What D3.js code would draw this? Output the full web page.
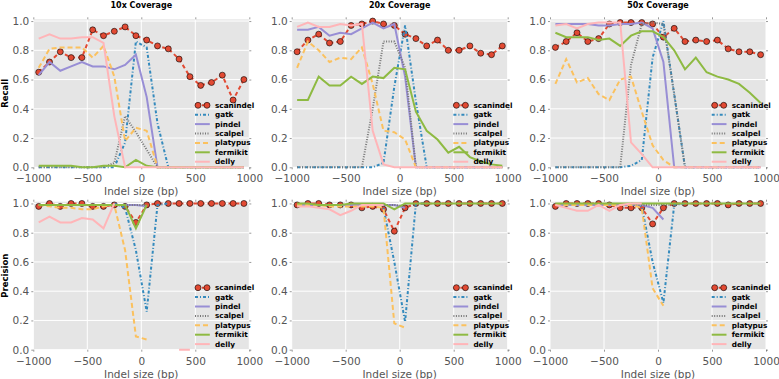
<!DOCTYPE html>
<html>
<head>
<meta charset="utf-8">
<script src="https://cdnjs.cloudflare.com/ajax/libs/d3/7.8.5/d3.min.js"></script>
<style>
  body { margin: 0; background: #fff; }
  svg { display: block; }
</style>
</head>
<body>
<div id="chart"></div>
<script>
// indel sizes (bin centres, bp)
var sizes = [-950, -850, -750, -650, -550, -450, -350, -250, -150, -50,
             50, 150, 250, 350, 450, 550, 650, 750, 850, 950];

var seriesNames = ["scanindel", "gatk", "pindel", "scalpel", "platypus", "fermikit", "delly"];
var xTicks = [-1000, -500, 0, 500, 1000];
var yTicks = [0.0, 0.2, 0.4, 0.6, 0.8, 1.0];
var titles = ["10x Coverage", "20x Coverage", "50x Coverage"];
var rowLabels = ["Recall", "Precision"];

var n = null;

// recall, one row per tool (same order as seriesNames)
var recall10 = [
  [0.65, 0.72, 0.79, 0.75, 0.75, 0.94, 0.90, 0.93, 0.96, 0.90, 0.87, 0.83, 0.81, 0.74, 0.62, 0.56, 0.58, 0.63, 0.46, 0.60],
  [0, 0, 0, 0, 0, 0, 0, 0, 0.17, 0.86, 0.82, 0.30, 0, 0, 0, 0, 0, 0, 0, 0],
  [0.63, 0.72, 0.66, 0.69, 0.72, 0.69, 0.69, 0.67, 0.70, 0.77, 0.48, 0, 0, 0, 0, 0, 0, 0, 0, 0],
  [0, 0, 0, 0, 0, 0, 0, 0.03, 0.35, 0.24, 0.12, 0, 0, 0, 0, 0, 0, 0, 0, 0],
  [0.68, 0.81, 0.82, 0.82, 0.82, 0.75, 0.83, 0.62, 0.18, 0.27, 0.25, 0, 0, 0, 0, 0, 0, 0, 0, 0],
  [0.01, 0.01, 0.01, 0.01, 0.0, 0.0, 0.01, 0.01, 0.0, 0.05, 0.01, 0, 0, 0, 0, 0, 0, 0, 0, 0],
  [0.88, 0.91, 0.88, 0.88, 0.89, 0.89, 0.85, 0.35, 0, 0, 0, 0, 0, 0, 0, 0, 0, 0, 0, 0]
];
var recall20 = [
  [0.79, 0.87, 0.91, 0.85, 0.86, 0.97, 0.98, 1.00, 0.98, 0.97, 0.91, 0.88, 0.83, 0.87, 0.80, 0.80, 0.83, 0.78, 0.77, 0.83],
  [0, 0, 0, 0, 0, 0, 0, 0, 0.03, 0.55, 0.97, 0.45, 0, 0, 0, 0, 0, 0, 0, 0],
  [0.94, 0.94, 0.96, 0.90, 0.92, 0.91, 0.95, 0.99, 0.95, 0.98, 0.62, 0, 0, 0, 0, 0, 0, 0, 0, 0],
  [0, 0, 0, 0, 0, 0, 0, 0.40, 0.86, 0.86, 0.68, 0, 0, 0, 0, 0, 0, 0, 0, 0],
  [0.68, 0.86, 0.80, 0.72, 0.75, 0.74, 0.82, 0.57, 0.25, 0.24, 0.19, 0, 0, 0, 0, 0, 0, 0, 0, 0],
  [0.46, 0.46, 0.62, 0.56, 0.56, 0.62, 0.57, 0.62, 0.61, 0.68, 0.67, 0.38, 0.25, 0.19, 0.10, 0.14, 0.07, 0.04, 0.02, 0.01],
  [0.96, 0.99, 0.96, 0.96, 0.98, 0.97, 0.98, 0.25, 0.02, 0, 0, 0, 0, 0, 0, 0, 0, 0, 0, 0]
];
var recall50 = [
  [0.82, 0.86, 0.92, 0.86, 0.88, 0.98, 0.99, 0.99, 0.99, 0.98, 0.89, 0.95, 0.86, 0.87, 0.86, 0.87, 0.81, 0.79, 0.79, 0.77],
  [0, 0, 0, 0, 0, 0, 0, 0.01, 0.05, 0.75, 1.00, 0.50, 0, 0, 0, 0, 0, 0, 0, 0],
  [0.98, 0.98, 0.98, 0.98, 0.97, 0.97, 0.98, 0.98, 0.99, 0.95, 0.72, 0, 0, 0, 0, 0, 0, 0, 0, 0],
  [0, 0, 0, 0, 0, 0, 0, 0.70, 0.98, 0.99, 0.98, 0.50, 0, 0, 0, 0, 0, 0, 0, 0],
  [0.57, 0.74, 0.58, 0.61, 0.50, 0.46, 0.60, 0.62, 0.38, 0.15, 0.05, 0, 0, 0, 0, 0, 0, 0, 0, 0],
  [0.92, 0.89, 0.89, 0.89, 0.87, 0.88, 0.83, 0.90, 0.93, 0.93, 0.89, 0.80, 0.67, 0.75, 0.65, 0.62, 0.60, 0.57, 0.51, 0.44],
  [0.97, 0.98, 0.95, 0.98, 0.99, 0.99, 0.99, 0.17, 0.09, 0, 0, 0, 0, 0, 0, 0, 0, 0, 0, 0]
];

// precision (null where the tool called nothing)
var precision10 = [
  [0.98, 1.00, 0.98, 1.00, 1.00, 0.98, 0.98, 0.99, 0.98, 0.87, 0.99, 1, 1, 1, 1, 1, 1, 1, 1, 1],
  [n, n, n, n, n, n, n, 1.00, 0.97, 0.68, 0.26, 0.99, 1.00, n, n, n, n, n, n, n],
  [0.99, 0.99, 0.99, 0.99, 0.99, 0.99, 0.99, 0.99, 0.99, 0.99, 0.98, n, n, n, n, n, n, n, n, n],
  [n, n, n, n, n, n, n, 0.99, 0.99, 0.99, 0.99, n, n, n, n, n, n, n, n, n],
  [0.99, 0.98, 0.97, 0.97, 0.96, 0.96, 0.98, 0.99, 0.68, 0.09, 0.07, n, n, n, n, n, n, n, n, n],
  [0.99, 0.99, 0.99, 0.99, 0.99, 0.99, 0.99, 0.99, 0.99, 0.83, 0.99, n, n, n, n, n, n, n, n, n],
  [0.87, 0.91, 0.87, 0.87, 0.90, 0.89, 0.83, 1.00, n, n, n, n, n, 0, 0, n, n, n, n, n]
];
var precision20 = [
  [0.99, 1.00, 1.00, 0.99, 0.99, 0.99, 0.97, 0.98, 0.96, 0.81, 0.97, 1, 1, 1, 1, 1, 1, 1, 1, 1],
  [n, n, n, n, n, n, n, n, 0.97, 0.60, 0.19, 1.00, 1.00, n, n, n, n, n, n, n],
  [0.99, 0.99, 0.99, 0.99, 0.99, 0.99, 0.99, 0.99, 0.99, 0.99, 0.97, n, n, n, n, n, n, n, n, n],
  [n, n, n, n, n, n, 0.99, 0.99, 0.99, 0.99, 0.98, n, n, n, n, n, n, n, n, n],
  [0.99, 0.99, 0.99, 0.98, 0.98, 0.98, 0.98, 0.98, 0.97, 0.18, 0.15, n, n, n, n, n, n, n, n, n],
  [1.00, 1.00, 0.99, 0.99, 0.99, 1.00, 1.00, 1.00, 1.00, 0.96, 1.00, 1, 1, 1, 1, 1, 1, 1, 1, 1],
  [0.98, 0.98, 0.97, 0.96, 0.92, 0.95, 0.99, 0.99, 0.99, n, n, n, n, n, n, n, n, n, n, n]
];
var precision50 = [
  [0.98, 1.00, 1.00, 1.00, 1.00, 0.99, 0.97, 0.97, 0.97, 0.86, 0.97, 1, 1, 1, 1, 1, 0.99, 1, 1, 1],
  [n, n, n, n, n, n, n, 1.00, 0.98, 0.60, 0.32, 0.99, 1.00, n, n, n, n, n, n, n],
  [0.99, 0.99, 0.99, 0.99, 0.99, 0.99, 0.99, 0.99, 0.99, 0.97, 0.89, n, n, n, n, n, n, n, n, n],
  [n, n, n, n, n, n, n, 0.99, 0.99, 0.99, 0.99, 0.99, n, n, n, n, n, n, n, n],
  [0.99, 0.99, 0.99, 0.99, 0.99, 0.99, 0.99, 0.99, 0.97, 0.42, 0.30, n, n, n, n, n, n, n, n, n],
  [1, 1, 1, 1, 1, 1, 1, 1, 1, 1, 1, 1, 1, 1, 1, 1, 1, 1, 1, 1],
  [0.99, 0.97, 0.95, 0.95, 0.99, 0.95, 0.99, 1.00, 1.00, n, n, n, n, n, n, n, n, n, n, n]
];

function init(){

    var w = 779;
    var h = 379;

    var styles = {
        scanindel: {color: "#E24A33", dash: "4,3"},
        gatk:      {color: "#348ABD", dash: "3,2,1,2"},
        pindel:    {color: "#988ED5", dash: null},
        scalpel:   {color: "#777777", dash: "1,1.5"},
        platypus:  {color: "#FBC15E", dash: "5,3"},
        fermikit:  {color: "#8EBA42", dash: null},
        delly:     {color: "#FFB5B8", dash: null}
    };

    var lefts = [33.3, 291.7, 550];
    var tops = [19.3, 201.7];
    var pw = 216;
    var ph = 148;

    var grid = [
        [recall10, recall20, recall50],
        [precision10, precision20, precision50]
    ];

    var svg = d3.select("#chart")
        .append("svg")
        .attr("width", w)
        .attr("height", h);

    var font = "'DejaVu Sans', sans-serif";

    grid.forEach(function(row, r){
        row.forEach(function(panel, c){

            var left = lefts[c];
            var top = tops[r];

            var x = d3.scaleLinear().domain([-1000, 1000]).range([0, pw]);
            var y = d3.scaleLinear().domain([0, 1.012]).range([ph, 0]);

            var g = svg.append("g")
                .attr("transform", "translate(" + left + "," + top + ")");

            g.append("rect")
                .attr("width", pw)
                .attr("height", ph)
                .attr("fill", "#E5E5E5");

            // white grid
            g.selectAll(".gx")
                .data(xTicks)
                .enter()
                .append("line")
                .attr("x1", d => x(d))
                .attr("x2", d => x(d))
                .attr("y1", 0)
                .attr("y2", ph)
                .attr("stroke", "#fff")
                .attr("stroke-width", 1);

            g.selectAll(".gy")
                .data(yTicks)
                .enter()
                .append("line")
                .attr("x1", 0)
                .attr("x2", pw)
                .attr("y1", d => y(d))
                .attr("y2", d => y(d))
                .attr("stroke", "#fff")
                .attr("stroke-width", 1);

            // axes
            g.append("g")
                .attr("transform", "translate(0," + ph + ")")
                .call(d3.axisBottom(x).tickValues(xTicks).tickFormat(d3.format("d")).tickSize(2).tickPadding(5.5));
            g.append("g")
                .call(d3.axisLeft(y).tickValues(yTicks).tickFormat(d3.format(".1f")).tickSize(2).tickPadding(2));
            g.append("g")
                .attr("transform", "translate(" + pw + ",0)")
                .call(d3.axisRight(y).tickValues(yTicks).tickFormat("").tickSize(2));
            g.append("g")
                .call(d3.axisTop(x).tickValues(xTicks).tickFormat("").tickSize(2));

            g.selectAll(".domain").remove();
            g.selectAll(".tick line").attr("stroke", "#555").attr("stroke-width", 0.6);
            g.selectAll(".tick text")
                .attr("fill", "#555")
                .style("font-family", font)
                .style("font-size", "10.5px");

            // series lines
            var line = d3.line()
                .defined(d => d[1] != null)
                .x(d => x(d[0]))
                .y(d => y(d[1]));

            seriesNames.forEach(function(name, i){
                var pts = sizes.map((s, k) => [s, panel[i][k]]);
                var st = styles[name];
                g.append("path")
                    .datum(pts)
                    .attr("d", line)
                    .attr("fill", "none")
                    .attr("stroke", st.color)
                    .attr("stroke-width", 2)
                    .attr("stroke-dasharray", st.dash);

                if (name == "scanindel") {
                    g.selectAll(".dot")
                        .data(pts.filter(d => d[1] != null))
                        .enter()
                        .append("circle")
                        .attr("cx", d => x(d[0]))
                        .attr("cy", d => y(d[1]))
                        .attr("r", 3)
                        .attr("fill", st.color)
                        .attr("stroke", "#000")
                        .attr("stroke-width", 0.6);
                }
            });

            // legend
            var leg = g.append("g");
            seriesNames.forEach(function(name, i){
                var st = styles[name];
                var ly = ph - 62 + i * 9.4;
                leg.append("line")
                    .attr("x1", 161.7)
                    .attr("x2", 176.5)
                    .attr("y1", ly)
                    .attr("y2", ly)
                    .attr("stroke", st.color)
                    .attr("stroke-width", 2)
                    .attr("stroke-dasharray", st.dash);
                if (name == "scanindel") {
                    [164.7, 173.7].forEach(function(cx){
                        leg.append("circle")
                            .attr("cx", cx)
                            .attr("cy", ly)
                            .attr("r", 3)
                            .attr("fill", st.color)
                            .attr("stroke", "#000")
                            .attr("stroke-width", 0.6);
                    });
                }
                leg.append("text")
                    .attr("x", 181.7)
                    .attr("y", ly)
                    .attr("dy", "0.35em")
                    .style("font-family", font)
                    .style("font-size", "7.3px")
                    .style("font-weight", "bold")
                    .attr("fill", "#000")
                    .text(name);
            });

            // x label
            g.append("text")
                .attr("x", pw / 2)
                .attr("y", ph + 24.5)
                .attr("dy", "0.35em")
                .attr("text-anchor", "middle")
                .attr("fill", "#555")
                .style("font-family", font)
                .style("font-size", "10.5px")
                .text("Indel size (bp)");

            if (r == 0) {
                g.append("text")
                    .attr("x", pw / 2)
                    .attr("y", -14.5)
                    .attr("dy", "0.35em")
                    .attr("text-anchor", "middle")
                    .style("font-family", font)
                    .style("font-size", "8px")
                    .style("font-weight", "bold")
                    .text(titles[c]);
            }

            if (c == 0) {
                g.append("text")
                    .attr("transform", "translate(" + (-28.5) + "," + (ph / 2) + ") rotate(-90)")
                    .attr("dy", "0.35em")
                    .attr("text-anchor", "middle")
                    .style("font-family", font)
                    .style("font-size", "8.5px")
                    .style("font-weight", "bold")
                    .text(rowLabels[r]);
            }
        });
    });
}
window.onload = init;
</script>
</body>
</html>
